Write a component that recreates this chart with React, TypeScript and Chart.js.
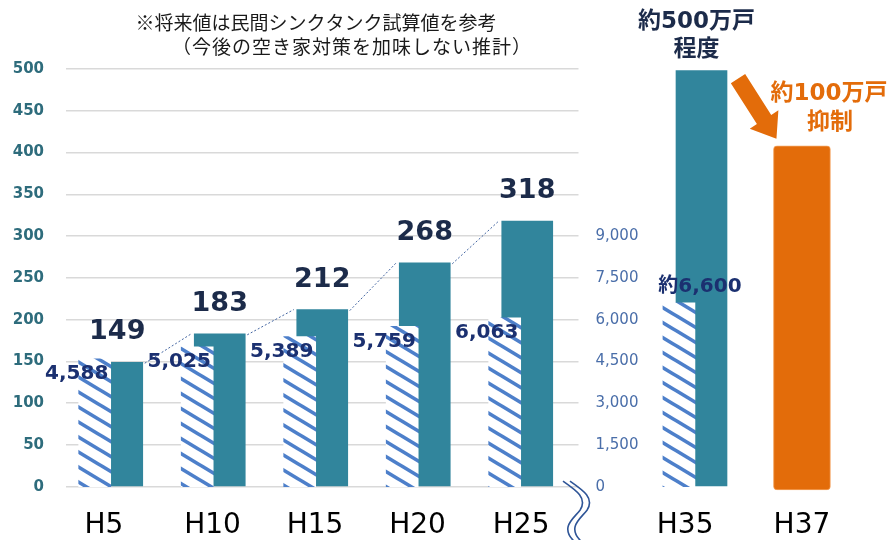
import React, { useEffect, useRef } from 'react';
import { Chart, registerables } from 'chart.js';

Chart.register(...registerables);

// ---------------- data ----------------
const periods = ['H5', 'H10', 'H15', 'H20', 'H25', 'H35', 'H37'];
// slot of each period on the (linear) index axis: the gap marks the time break
const slotPos = [0, 1, 2, 3, 4, 5.7, 6.68];
const tickPos = [-0.13, 0.93, 1.93, 2.93, 3.94, 5.54, 6.68];

const vacantHomes = [149, 183, 212, 268, 318, 498]; // 空き家数 (万戸) H5..H35
const totalHomes = [4588, 5025, 5389, 5759, 6063, 6600]; // 住宅総数 (万戸) H5..H35
const totalLabels = ['4,588', '5,025', '5,389', '5,759', '6,063', '約6,600'];
const suppressedHomes = [408]; // H37 (対策後)

const leftMin = 0;
const leftMax = 500;
const leftStep = 50;
const rightMin = 0;
const rightMax = 15000;
const rightStep = 1500;
const rightShownMax = 9000;

const noteLines = ['※将来値は民間シンクタンク試算値を参考', '（今後の空き家対策を加味しない推計）'];
const forecastNote = ['約500万戸', '程度'];
const suppressNote = ['約100万戸', '抑制'];

// ---------------- styles ----------------
const FONT = "'DejaVu Sans', 'Noto Sans CJK JP', sans-serif";
const TEAL = '#31859c';
const ORANGE = '#e36c0a';
const STRIPE = '#4d7fca';
const NAVY = '#1c2b4a';
const NAVY2 = '#1b3070';
const HATCH_SHIFT = -0.22;

function makeHatch(): CanvasPattern | string {
  const c = document.createElement('canvas');
  const w = 25;
  const h = 15;
  c.width = w;
  c.height = h;
  const g = c.getContext('2d');
  if (!g) return '#ffffff';
  g.fillStyle = '#ffffff';
  g.fillRect(0, 0, w, h);
  g.strokeStyle = STRIPE;
  g.lineWidth = 3.6;
  for (let k = -1; k <= 1; k++) {
    g.beginPath();
    g.moveTo(-2, k * h - (2 * h) / w);
    g.lineTo(w + 2, k * h + h + (2 * h) / w);
    g.stroke();
  }
  const p = g.createPattern(c, 'repeat');
  return p || '#ffffff';
}

const annotations = {
  id: 'annotations',
  afterDatasetsDraw(chart: any) {
    const ctx: CanvasRenderingContext2D = chart.ctx;
    const hatch = chart.getDatasetMeta(0).data;
    const teal = chart.getDatasetMeta(1).data;
    const orange = chart.getDatasetMeta(2).data;
    const area = chart.chartArea;
    ctx.save();

    // dotted connectors between the vacant-home bars
    ctx.strokeStyle = '#2f5597';
    ctx.lineWidth = 0.9;
    ctx.setLineDash([2, 2]);
    for (let i = 0; i < 4; i++) {
      const a = teal[i];
      const b = teal[i + 1];
      ctx.beginPath();
      ctx.moveTo(a.x + a.width / 2 + 2, a.y + 1);
      ctx.lineTo(b.x - b.width / 2 - 3, b.y);
      ctx.stroke();
    }
    ctx.setLineDash([]);

    // vacant-home values
    ctx.textAlign = 'center';
    ctx.textBaseline = 'alphabetic';
    ctx.fillStyle = NAVY;
    ctx.font = `bold 27px ${FONT}`;
    for (let i = 0; i < 5; i++) {
      const t = teal[i];
      ctx.fillText(String(vacantHomes[i]), t.x, t.y - 23);
    }

    // total-home values
    ctx.fillStyle = NAVY2;
    ctx.font = `bold 20px ${FONT}`;
    for (let i = 0; i < 5; i++) {
      const h = hatch[i];
      ctx.fillText(totalLabels[i], h.x - 18, h.y + 20.5);
    }
    const h5 = hatch[5];
    ctx.fillText(totalLabels[5], h5.x + 21, h5.y - 11);

    // forecast note above H35
    const t5 = teal[5];
    ctx.textBaseline = 'middle';
    ctx.fillStyle = NAVY;
    ctx.font = `bold 23px ${FONT}`;
    ctx.fillText(forecastNote[0], t5.x - 5, t5.y - 49);
    ctx.fillText(forecastNote[1], t5.x - 5, t5.y - 21);

    // suppression note above H37
    const o = orange[0];
    ctx.fillStyle = ORANGE;
    ctx.fillText(suppressNote[0], o.x + 27, o.y - 52);
    ctx.fillText(suppressNote[1], o.x + 28, o.y - 22.5);

    // arrow from H35 to H37
    const sx = t5.x + t5.width / 2 + 11;
    const sy = t5.y + 8;
    const tx = o.x - o.width / 2 + 3;
    const ty = o.y - 7;
    const len = Math.hypot(tx - sx, ty - sy);
    const dx = (tx - sx) / len;
    const dy = (ty - sy) / len;
    const nx = -dy;
    const ny = dx;
    const shaft = 8.5;
    const headLen = 23;
    const headW = 17;
    const bx = tx - dx * headLen;
    const by = ty - dy * headLen;
    ctx.fillStyle = ORANGE;
    ctx.beginPath();
    ctx.moveTo(sx + nx * shaft, sy + ny * shaft);
    ctx.lineTo(bx + nx * shaft, by + ny * shaft);
    ctx.lineTo(bx + nx * headW, by + ny * headW);
    ctx.lineTo(tx, ty);
    ctx.lineTo(bx - nx * headW, by - ny * headW);
    ctx.lineTo(bx - nx * shaft, by - ny * shaft);
    ctx.lineTo(sx - nx * shaft, sy - ny * shaft);
    ctx.closePath();
    ctx.fill();

    // axis break symbol
    const r = area.right;
    const b = area.bottom;
    ctx.strokeStyle = '#2f5597';
    ctx.lineWidth = 1.6;
    for (const off of [0, 7]) {
      const x0 = r - 15.5 + off;
      ctx.beginPath();
      ctx.moveTo(x0, b - 5.5);
      ctx.bezierCurveTo(x0 + 13, b + 3.5, x0 + 25, b + 11.5, x0 + 17, b + 23.5);
      ctx.bezierCurveTo(x0 + 10, b + 32.5, x0 - 3, b + 40.5, x0 + 11, b + 54.5);
      ctx.stroke();
    }

    // note at the top
    ctx.fillStyle = '#1a1a1a';
    ctx.textBaseline = 'middle';
    ctx.font = "19px 'Noto Sans CJK JP', sans-serif";
    ctx.fillText(noteLines[0], 316, 22.5);
    (ctx as any).letterSpacing = '1px';
    ctx.fillText(noteLines[1], 352, 46.5);
    (ctx as any).letterSpacing = '0px';

    ctx.restore();
  },
};

export default function App() {
  const ref = useRef<HTMLCanvasElement | null>(null);

  useEffect(() => {
    if (!ref.current) return;
    const hatchFill = makeHatch();
    const chart = new Chart(ref.current, {
      type: 'bar',
      data: {
        datasets: [
          {
            label: '住宅総数',
            yAxisID: 'y2',
            data: totalHomes.map((v, i) => ({ x: slotPos[i] + HATCH_SHIFT, y: v })),
            backgroundColor: hatchFill as any,
            barThickness: 32,
            grouped: false,
            clip: false as any,
          },
          {
            label: '空き家数',
            yAxisID: 'y',
            data: vacantHomes.map((v, i) => ({ x: slotPos[i], y: v })),
            backgroundColor: TEAL,
            barThickness: 51,
            grouped: false,
            clip: false as any,
          },
          {
            label: '対策後',
            yAxisID: 'y',
            data: suppressedHomes.map((v, i) => ({ x: slotPos[6 + i], y: v })),
            backgroundColor: ORANGE,
            borderColor: '#f3a05a',
            borderWidth: 1,
            borderRadius: 4,
            borderSkipped: false,
            base: -4,
            barThickness: 57,
            grouped: false,
            clip: false as any,
          },
        ] as any,
      },
      options: {
        animation: false,
        responsive: false,
        maintainAspectRatio: false,
        devicePixelRatio: 1,
        layout: { padding: { top: 69, left: 0, right: 0, bottom: 0 } },
        plugins: {
          legend: { display: false },
          tooltip: { enabled: false },
          title: { display: false },
        },
        scales: {
          x: {
            type: 'linear',
            position: 'bottom',
            offset: false,
            min: -0.5,
            max: 4.5,
            grid: { display: false, offset: false },
            border: { display: false },
            afterBuildTicks: (scale: any) => {
              scale.ticks = tickPos.map((v) => ({ value: v }));
            },
            afterFit: (scale: any) => {
              scale.height = 53.3;
              scale.paddingLeft = 0;
              scale.paddingRight = 0;
            },
            ticks: {
              autoSkip: false,
              maxRotation: 0,
              minRotation: 0,
              padding: 14,
              color: '#000000',
              font: { family: FONT, size: 28 },
              callback: (_v: any, i: number) => periods[i],
            },
          },
          y: {
            type: 'linear',
            position: 'left',
            min: leftMin,
            max: leftMax,
            grid: { color: '#d9d9d9', lineWidth: 1.5, drawTicks: false },
            border: { display: false },
            afterFit: (scale: any) => {
              scale.width = 66;
            },
            ticks: {
              stepSize: leftStep,
              padding: 22,
              color: '#2e6c7c',
              font: { family: FONT, size: 15, weight: 'bold' },
            },
          },
          y2: {
            type: 'linear',
            position: 'right',
            min: rightMin,
            max: rightMax,
            grid: { display: false, drawTicks: false },
            border: { display: false },
            afterFit: (scale: any) => {
              scale.width = 889 - 578.5;
            },
            ticks: {
              stepSize: rightStep,
              padding: 17,
              color: '#4a6ea9',
              font: { family: FONT, size: 15 },
              callback: (v: any) => (Number(v) <= rightShownMax ? Number(v).toLocaleString('en-US') : null),
            },
          },
        },
      } as any,
      plugins: [annotations],
    });
    return () => chart.destroy();
  }, []);

  return (
    <div style={{ position: 'absolute', left: 0, top: 0, width: 889, height: 540, background: '#ffffff' }}>
      <canvas ref={ref} width={889} height={540} style={{ display: 'block' }} />
    </div>
  );
}
